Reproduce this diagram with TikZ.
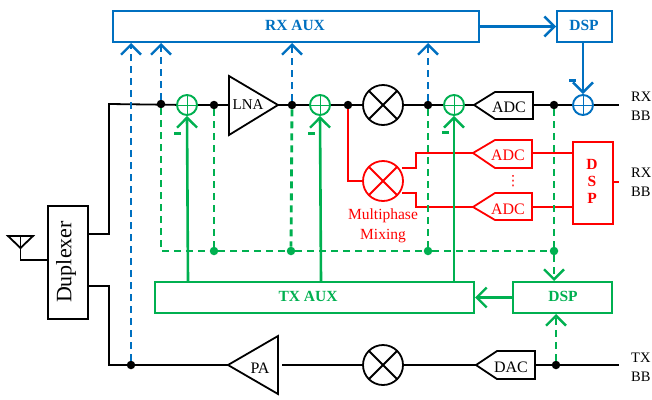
\documentclass[tikz,border=0pt]{standalone}
\usepackage{fontspec}
\setmainfont{Liberation Serif}
\newfontfamily\symfont{DejaVu Sans}
\usetikzlibrary{arrows.meta}
\definecolor{bl}{RGB}{0,112,192}
\definecolor{gr}{RGB}{0,176,80}
\definecolor{rd}{RGB}{255,0,0}
\tikzset{
  wire/.style={line width=1.8pt,black},
  wirer/.style={line width=1.8pt,rd},
  solb/.style={line width=2.6pt,bl},
  solg/.style={line width=2.6pt,gr},
  dashb/.style={draw=bl,line width=2.8pt,dash pattern=on 7pt off 5pt},
  dashg/.style={draw=gr,line width=2.8pt,dash pattern=on 7pt off 5pt},
  barb/.style={-{Straight Barb[length=10pt,width=20pt,line width=2.4pt]}},
  dotk/.style={circle,fill=black,inner sep=0pt,minimum size=8.5pt},
  dotg/.style={circle,fill=gr,inner sep=0pt,minimum size=8.5pt},
  boxn/.style={draw,rectangle,inner sep=0pt,anchor=north west},
  sumn/.style={circle,draw,line width=1.9pt,inner sep=0pt,minimum size=20pt,
    path picture={\draw[line width=.7pt] (path picture bounding box.north)--(path picture bounding box.south)
      (path picture bounding box.west)--(path picture bounding box.east);}},
  mixn/.style={circle,draw,line width=1.8pt,inner sep=0pt,minimum size=40pt,
    path picture={\draw[line width=1.8pt] (path picture bounding box.north west)--(path picture bounding box.south east)
      (path picture bounding box.south west)--(path picture bounding box.north east);}},
  txt/.style={font=\fontsize{16}{18}\selectfont,inner sep=0pt},
  side/.style={font=\fontsize{14.5}{16}\selectfont,inner sep=0pt,anchor=west},
  bold/.style={font=\fontsize{15.5}{17}\selectfont\bfseries,inner sep=0pt},
  minusb/.style={fill=bl,draw=none,inner sep=0pt,minimum width=7pt,minimum height=3pt},
  minusg/.style={fill=gr,draw=none,inner sep=0pt,minimum width=7pt,minimum height=3pt},
}
\begin{document}
\begin{tikzpicture}[x=1pt,y=-1pt]
\useasboundingbox (0,0) rectangle (652,399);
% boxes
\node[boxn,bl,line width=2pt,minimum width=366pt,minimum height=31pt] (rxaux) at (112,10) {};
\node[bold,bl] at (295,25) {RX AUX};
\node[boxn,bl,line width=2pt,minimum width=55pt,minimum height=31pt] (dspb) at (556,10) {};
\node[bold,bl] at (584,25) {DSP};
\node[boxn,gr,line width=2pt,minimum width=319pt,minimum height=31pt] (txaux) at (154,281) {};
\node[bold,gr] at (308,296) {TX AUX};
\node[boxn,gr,line width=2pt,minimum width=99pt,minimum height=31pt] (dspg) at (512,281) {};
\node[bold,gr] at (563,296) {DSP};
\node[boxn,black,line width=1.8pt,minimum width=40pt,minimum height=113pt] (dup) at (47,205) {};
\node[rotate=90,inner sep=0pt,font=\fontsize{22}{24}\selectfont] at (66,262) {Duplexer};
\node[boxn,rd,line width=1.8pt,minimum width=40pt,minimum height=82pt] (dspr) at (572,141) {};
\node[bold,rd,align=center,font=\fontsize{15.5}{17}\selectfont\bfseries] at (592,181) {D\\S\\P};
% coordinates
\coordinate (ul) at (109,104); \coordinate (ll) at (109,365);
\coordinate (dupa) at (87,234); \coordinate (dupb) at (87,286);
\coordinate (dupc) at (47,260);
\coordinate (lnain) at (229,105); \coordinate (lnaout) at (278,105);
\coordinate (pain) at (282,365); \coordinate (paout) at (228,365);
\coordinate (adcin) at (533,105); \coordinate (adcout) at (474,105);
\coordinate (dacin) at (535,365); \coordinate (dacout) at (476,365);
\coordinate (rxe) at (619,105); \coordinate (txe) at (619,365);
\coordinate (rre) at (619,182);
\coordinate (a1tip) at (473,153); \coordinate (a1r) at (532,153);
\coordinate (a2tip) at (473,207); \coordinate (a2r) at (532,207);
% dots and summers
\node[sumn,gr] (s1) at (187,105) {};
\node[sumn,gr] (s2) at (320,105) {};
\node[sumn,gr] (s3) at (454,105) {};
\node[sumn,bl] (s4) at (583,105) {};
\node[mixn] (m1) at (383,105) {};
\node[mixn] (m3) at (383,365) {};
\node[mixn,rd] (m2) at (383,181) {};
% black signal lines
\draw[wire] (dupa) -| (ul) -- (s1);
\draw[wire] (s1) -- (lnain);
\draw[wire] (lnaout) -- (s2) -- (m1) -- (s3);
\draw[wire] (s3) -- (adcout);
\draw[wire] (adcin) -- (s4);
\draw[wire] (s4) -- (rxe);
\draw[wire] (dupb) -| (ll) -- (paout);
\draw[wire] (pain) -- (m3) -- (dacout);
\draw[wire] (dacin) -- (txe);
% antenna
\coordinate (anta) at (8,236); \coordinate (antb) at (33,236); \coordinate (antt) at (20.5,248);
\draw[wire] (anta) -- (antb) -- (antt) -- cycle;
\draw[wire] (20.5,236) -- (antt) |- (dupc);
% amplifiers and converters
\draw[wire,fill=white] (lnain) -- (229,76) -- (lnaout) -- (229,135) -- cycle;
\node[txt,font=\fontsize{15}{16}\selectfont] at (248,105) {LNA};
\draw[wire,fill=white] (paout) -- (278,336) -- (278,394) -- cycle;
\node[txt] at (260,368) {PA};
\draw[wire,fill=white] (adcout) -- (495,92) -- (533,92) -- (533,119) -- (495,119) -- cycle;
\node[txt] at (509,107) {ADC};
\draw[wire,fill=white] (dacout) -- (497,351) -- (535,351) -- (535,379) -- (497,379) -- cycle;
\node[txt] at (511,367) {DAC};
% red path
\node[dotk] (d0) at (348,105) {};
\draw[wirer] (d0) |- (m2.west);
\draw[wirer] (402,168) -- (416,168) -- (416,153) -- (a1tip);
\draw[wirer] (402,193) -- (416,193) -- (416,207) -- (a2tip);
\draw[wirer] (a1r) -- (a1r -| dspr.west);
\draw[wirer] (a2r) -- (a2r -| dspr.west);
\draw[wirer] (rre -| dspr.east) -- (rre);
\draw[wirer] (a1tip) -- (495,140) -- (532,140) -- (532,168) -- (495,168) -- cycle;
\draw[wirer] (a2tip) -- (495,193) -- (532,193) -- (532,220) -- (495,220) -- cycle;
\node[txt,rd] at (508,155) {ADC};
\node[txt,rd] at (508,209) {ADC};
\node[txt,rd,font=\symfont\fontsize{14}{14}\selectfont] at (513,181) {⋮};
\node[txt,rd,align=center,font=\fontsize{15.5}{20}\selectfont] at (383,226) {Multiphase\\Mixing};
% nodes on the lines
\node[dotk] (d1) at (161,104) {};
\node[dotk] (d2) at (214,105) {};
\node[dotk] (d3) at (292,105) {};
\node[dotk] (d4) at (428,105) {};
\node[dotk] (d5) at (554,105) {};
\node[dotk] (d6) at (131,365) {};
\node[dotk] (d7) at (556,365) {};
\node[dotg] (g2) at (214,251) {};
\node[dotg] (g3) at (291,251) {};
\node[dotg] (g4) at (428,251) {};
\node[dotg] (g5) at (554,251) {};
\coordinate (g1) at (161,251);
% green dashed
\draw[dashg] (d1) -- (g1) -- (g2) -- (g3) -- (g4) -- (g5);
\draw[dashg] (d2) -- (g2);
\draw[dashg] (d3) -- (g3);
\draw[dashg] (d4) -- (g4);
\draw[dashg] (d5) -- (g5);
\draw[dashg,barb] (g5) -- (g5 |- dspg.north);
\draw[dashg,barb] (d7) -- (d7 |- dspg.south);
% blue dashed
\draw[dashb,barb] (d6) -- (d6 |- rxaux.south);
\draw[dashb,barb] (d1) -- (d1 |- rxaux.south);
\draw[dashb,barb] (d3) -- (d3 |- rxaux.south);
\draw[dashb,barb] (d4) -- (d4 |- rxaux.south);
% green solid
\coordinate (t1) at (188,281); \coordinate (t2) at (321,281); \coordinate (t3) at (454,281);
\draw[solg,barb] (t1) -- (s1.south);
\draw[solg,barb] (t2) -- (s2.south);
\draw[solg,barb] (t3) -- (s3.south);
\draw[solg,barb] (dspg.west) -- (txaux.east);
% blue solid
\draw[solb,barb] (rxaux.east) -- (dspb.west);
\draw[solb,barb] (dspb.south -| s4) -- (s4.north);
% minus signs
\node[minusg] at (177,133) {};
\node[minusg] at (311,133) {};
\node[minusg] at (445,132) {};
\node[minusb] at (572,80) {};
% baseband labels
\node[side] at (631,97) {RX};
\node[side] at (631,116) {BB};
\node[side] at (631,173) {RX};
\node[side] at (631,192) {BB};
\node[side] at (631,358) {TX};
\node[side] at (631,377) {BB};
\end{tikzpicture}
\end{document}
